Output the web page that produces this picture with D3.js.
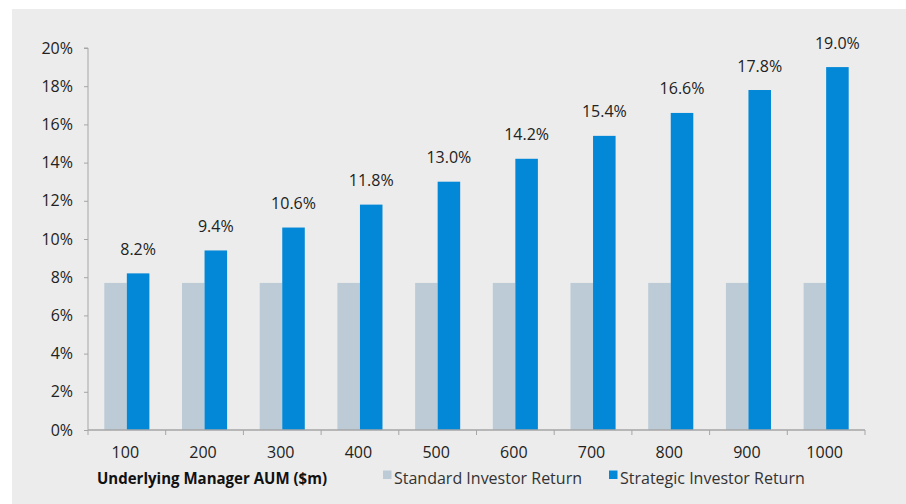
<!DOCTYPE html>
<html><head><meta charset="utf-8">
<script src="https://cdn.jsdelivr.net/npm/d3@7"></script>
<style>
body{margin:0;background:#fff;}
svg{display:block;font-family:"Open Sans","Noto Sans",sans-serif;}
</style></head>
<body><svg id="c" width="906" height="504"></svg>
<script>
const categories = ["100","200","300","400","500","600","700","800","900","1000"];
const standardReturn = [7.7,7.7,7.7,7.7,7.7,7.7,7.7,7.7,7.7,7.7];
const strategicReturn = [8.2,9.4,10.6,11.8,13.0,14.2,15.4,16.6,17.8,19.0];
const yTicks = [0,2,4,6,8,10,12,14,16,18,20];
const seriesNames = ["Standard Investor Return","Strategic Investor Return"];
const colors = ["#bccbd6","#0288d7"];
const xTitle = "Underlying Manager AUM ($m)";

(function(){
const svg = d3.select("#c");
svg.append("rect").attr("x",12).attr("y",9).attr("width",894).attr("height",495).attr("fill","#ececec");

const pLeft=88,pRight=865,pTop=48,pBottom=430;
const x = d3.scaleBand().domain(categories).range([pLeft,pRight]).paddingInner(0.42).paddingOuter(0.21);
const y = d3.scaleLinear().domain([0,20]).range([pBottom,pTop]);
const bw = x.bandwidth()/2;

const g = svg.append("g");
categories.forEach((c,i)=>{
  g.append("rect").attr("x",x(c)).attr("y",y(standardReturn[i])).attr("width",bw).attr("height",y(0)-y(standardReturn[i])).attr("fill",colors[0]);
  g.append("rect").attr("x",x(c)+bw).attr("y",y(strategicReturn[i])).attr("width",bw).attr("height",y(0)-y(strategicReturn[i])).attr("fill",colors[1]);
  g.append("text").attr("x",x(c)+bw*1.5).attr("y",y(strategicReturn[i])-18.5).attr("text-anchor","middle")
    .attr("font-size",16).attr("fill","#222").text(strategicReturn[i].toFixed(1)+"%");
});

const yAxis = d3.axisLeft(y).tickValues(yTicks).tickFormat(d=>d+"%").tickSize(4).tickPadding(11);
const ya = svg.append("g").attr("transform",`translate(${pLeft},0)`).call(yAxis);
ya.select(".domain").attr("stroke","#a6a6a6").attr("d",`M-4,${pTop}H0V${pBottom}`);
ya.selectAll(".tick line").attr("stroke","#a6a6a6");
ya.selectAll(".tick text").attr("font-size",16).attr("fill","#222").attr("font-family","Open Sans");

const bounds = d3.range(categories.length+1).map(i=>pLeft+(pRight-pLeft)*i/categories.length);
const xa = svg.append("g");
xa.append("line").attr("x1",pLeft).attr("x2",pRight).attr("y1",pBottom).attr("y2",pBottom).attr("stroke","#a6a6a6").attr("stroke-width",1.3);
bounds.forEach(b=>xa.append("line").attr("x1",b).attr("x2",b).attr("y1",pBottom).attr("y2",pBottom+5).attr("stroke","#a6a6a6"));
categories.forEach(c=>xa.append("text").attr("x",x(c)+bw-1.5).attr("y",458).attr("text-anchor","middle")
  .attr("font-size",16).attr("fill","#222").text(c));

svg.append("text").attr("x",97).attr("y",484).attr("font-size",16).attr("font-weight","bold")
  .attr("textLength",230).attr("lengthAdjust","spacingAndGlyphs").attr("fill","#111").text(xTitle);

const lx=[383,609];
seriesNames.forEach((n,i)=>{
  svg.append("rect").attr("x",lx[i]).attr("y",470.5).attr("width",8.5).attr("height",8.5).attr("fill",colors[i]);
  svg.append("text").attr("x",lx[i]+11).attr("y",484).attr("font-size",16).attr("fill","#333").text(n);
});
})();
</script></body></html>
